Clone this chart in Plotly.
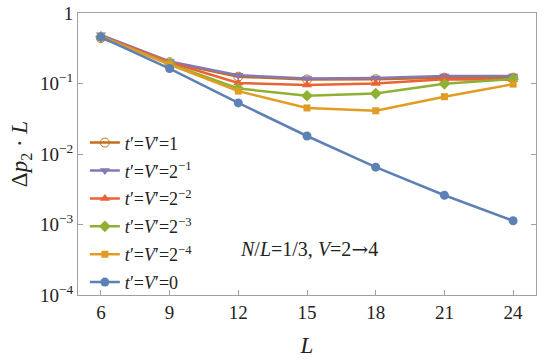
import plotly.graph_objects as go

# system sizes
L = [6, 9, 12, 15, 18, 21, 24]

# Δp2·L for each t'=V' value
gap_1 = [0.44, 0.20, 0.125, 0.114, 0.115, 0.121, 0.121]
gap_2m1 = [0.49, 0.205, 0.131, 0.118, 0.120, 0.128, 0.128]
gap_2m2 = [0.47, 0.200, 0.102, 0.095, 0.100, 0.115, 0.113]
gap_2m3 = [0.46, 0.190, 0.085, 0.067, 0.072, 0.099, 0.116]
gap_2m4 = [0.46, 0.185, 0.078, 0.045, 0.041, 0.065, 0.098]
gap_0 = [0.455, 0.163, 0.053, 0.018, 0.0065, 0.0026, 0.00113]

y_tickvals = [1, 0.1, 0.01, 0.001, 0.0001]
y_ticktext = ["1", "10<sup>−1</sup>", "10<sup>−2</sup>", "10<sup>−3</sup>", "10<sup>−4</sup>"]
x_tickvals = [6, 9, 12, 15, 18, 21, 24]

FONT = "Liberation Serif, Times New Roman, serif"
FRAME = "#a0a0a0"

series = [
    ("<i>t</i>′=<i>V</i>′=1", gap_1, "#C56E1A", "circle-open"),
    ("<i>t</i>′=<i>V</i>′=2<sup>−1</sup>", gap_2m1, "#8778B3", "triangle-down"),
    ("<i>t</i>′=<i>V</i>′=2<sup>−2</sup>", gap_2m2, "#EB6235", "triangle-up"),
    ("<i>t</i>′=<i>V</i>′=2<sup>−3</sup>", gap_2m3, "#8FB032", "diamond"),
    ("<i>t</i>′=<i>V</i>′=2<sup>−4</sup>", gap_2m4, "#E19C24", "square"),
    ("<i>t</i>′=<i>V</i>′=0", gap_0, "#5E81B5", "circle"),
]

fig = go.Figure()

for i, (name, vals, color, sym) in enumerate(series):
    fig.add_trace(
        go.Scatter(
            x=L,
            y=vals,
            mode="lines+markers",
            name=name,
            legendgroup=str(i),
            line=dict(color=color, width=2.5),
            marker=dict(
                symbol=sym,
                size=9 if sym != "square" else 7,
                color=color,
                line=dict(color=color, width=1 if sym == "circle-open" else 0),
            ),
        )
    )

fig.add_annotation(
    text=(
        "<i>N</i>/<i>L</i>=1/3, <i>V</i>=2"
        "<span style='font-family:DejaVu Serif'>→</span>4"
    ),
    xref="paper",
    yref="paper",
    x=0.349,
    y=0.164,
    xanchor="left",
    yanchor="middle",
    showarrow=False,
    font=dict(family=FONT, size=20, color="#222"),
)

fig.update_layout(
    width=545,
    height=363,
    margin=dict(l=78, r=9, t=12.5, b=67.5, autoexpand=False),
    plot_bgcolor="white",
    paper_bgcolor="white",
    font=dict(family=FONT, size=19, color="#222"),
    legend=dict(
        x=0.015,
        y=0.605,
        xanchor="left",
        yanchor="top",
        bgcolor="rgba(0,0,0,0)",
        tracegroupgap=1.5,
        font=dict(family=FONT, size=18),
        itemwidth=30,
    ),
    xaxis=dict(
        range=[5, 25],
        tickvals=x_tickvals,
        ticks="inside",
        ticklen=5,
        tickcolor=FRAME,
        showline=True,
        linecolor=FRAME,
        linewidth=1,
        mirror=True,
        showgrid=False,
        zeroline=False,
        automargin=False,
        title=dict(text="<i>L</i>", standoff=15),
    ),
    xaxis2=dict(
        range=[5, 25],
        overlaying="x",
        side="top",
        dtick=1,
        tick0=5,
        ticks="inside",
        ticklen=5,
        tickcolor=FRAME,
        showticklabels=False,
        showgrid=False,
        zeroline=False,
        showline=False,
        automargin=False,
    ),
    yaxis=dict(
        type="log",
        range=[-4, 0],
        tickvals=y_tickvals,
        ticktext=y_ticktext,
        ticks="inside",
        ticklen=5,
        tickcolor=FRAME,
        showline=True,
        linecolor=FRAME,
        linewidth=1,
        mirror="ticks",
        showgrid=False,
        zeroline=False,
        automargin=False,
        title=dict(text="Δ<i>p</i><sub>2</sub> · <i>L</i>", standoff=5),
    ),
)

# drop the page's default body margin so the figure sits at the window corner
fig.write_html(
    "out.html",
    config={"displayModeBar": False},
    post_script="document.body.style.margin='0';",
)
